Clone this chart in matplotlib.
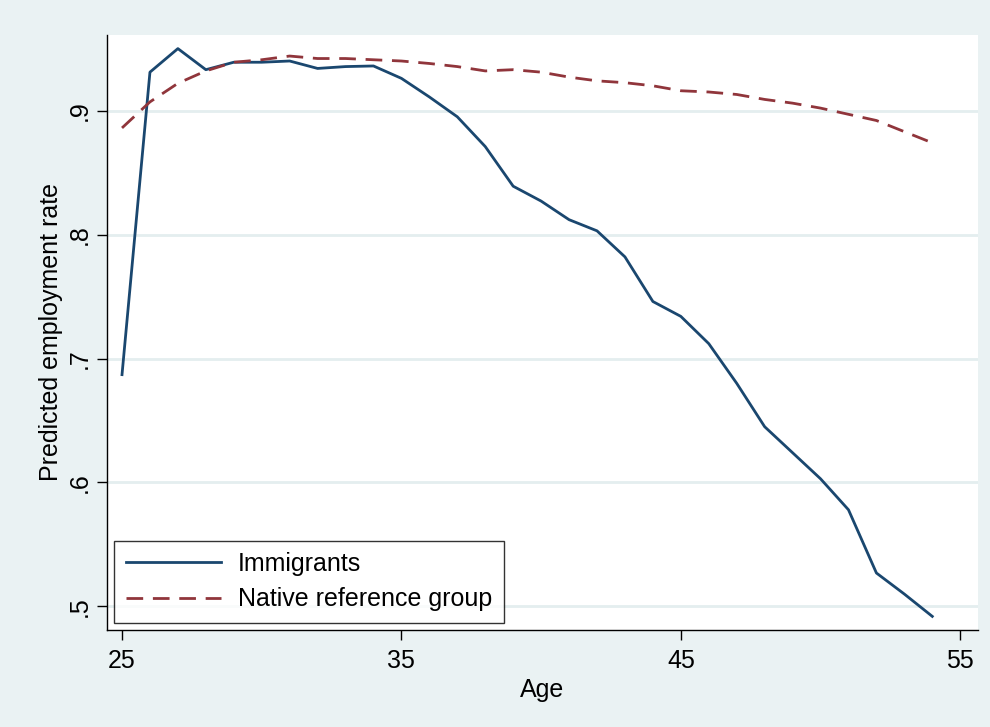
import numpy as np
import matplotlib.pyplot as plt

plt.rcParams['font.family'] = ['Liberation Sans', 'DejaVu Sans']

# Predicted employment rate by age
age = list(range(25, 55))
immigrants = [0.687, 0.931, 0.950, 0.933, 0.939, 0.939, 0.940, 0.934, 0.9355, 0.936,
              0.926, 0.911, 0.895, 0.871, 0.839, 0.827, 0.812, 0.803, 0.782, 0.746,
              0.734, 0.712, 0.680, 0.645, 0.624, 0.603, 0.578, 0.527, 0.510, 0.492]
natives = [0.886, 0.907, 0.922, 0.932, 0.939, 0.941, 0.944, 0.942, 0.942, 0.941,
           0.940, 0.938, 0.9355, 0.932, 0.933, 0.931, 0.927, 0.924, 0.9225, 0.920,
           0.916, 0.915, 0.913, 0.909, 0.906, 0.902, 0.897, 0.892, 0.883, 0.874]

xticks = [25, 35, 45, 55]
yticks = [0.5, 0.6, 0.7, 0.8, 0.9]
ylabels = ['.5', '.6', '.7', '.8', '.9']

bg = '#eaf2f3'
fig = plt.figure(figsize=(9.9, 7.27), dpi=100, facecolor=bg)
ax = fig.add_axes([0.108, 0.1334, 0.880, 0.8185])
ax.set_facecolor('white')

ax.plot(age, immigrants, color='#1a476f', lw=2, label='Immigrants')
ax.plot(age, natives, color='#90353b', lw=2, dashes=(6, 3.5), label='Native reference group')

ax.set_xlim(24.46, 55.64)
ax.set_ylim(0.481, 0.961)
ax.set_xticks(xticks)
ax.set_yticks(yticks)
ax.set_yticklabels(ylabels, rotation=90, va='center')
ax.tick_params(labelsize=18, length=7, width=1, color='black')
ax.tick_params(axis='x', pad=7)
ax.tick_params(axis='y', pad=4)
ax.grid(axis='y', color='#e4eeef', lw=2)
ax.set_axisbelow(True)

for s in ['top', 'right']:
    ax.spines[s].set_visible(False)
for s in ['left', 'bottom']:
    ax.spines[s].set_linewidth(1)
    ax.spines[s].set_color('black')

ax.set_xlabel('Age', fontsize=18, labelpad=3)
ax.set_ylabel('Predicted employment rate', fontsize=18, labelpad=3)

leg = ax.legend(loc='lower left', fontsize=18, frameon=True, fancybox=False,
                edgecolor='black', handlelength=3.8, borderaxespad=0.3,
                borderpad=0.45, labelspacing=0.45, handletextpad=0.7)
leg.get_frame().set_linewidth(1)

fig.savefig('out.png', dpi=100, facecolor=bg)
